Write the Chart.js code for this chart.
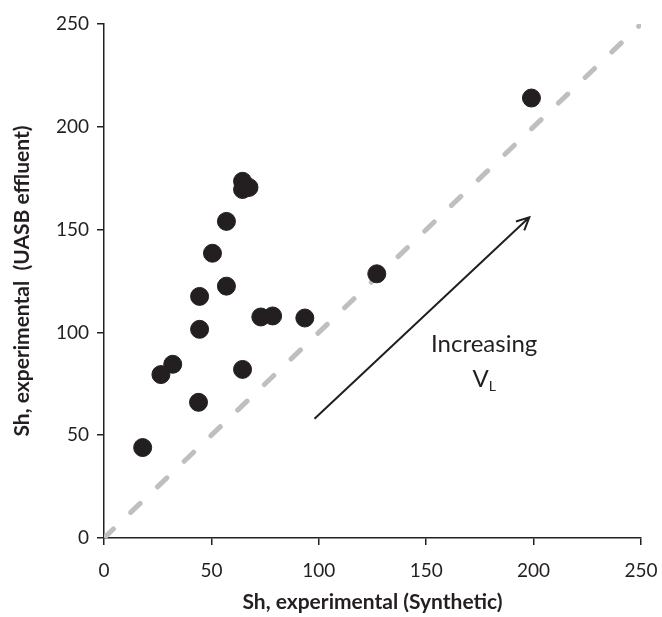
<!DOCTYPE html>
<html>
<head>
<meta charset="utf-8">
<script src="https://cdn.jsdelivr.net/npm/chart.js@4/dist/chart.umd.min.js"></script>
<style>
  html, body { margin: 0; padding: 0; background: #fff; }
  #wrap { width: 662px; height: 617px; position: relative; }
</style>
</head>
<body>
<div id="wrap"><canvas id="shChart"></canvas></div>
<script>
// Sh values
const shSynthetic = [18, 26.5, 32, 44, 44.5, 44.5, 50.5, 57, 57, 64.5, 64.5, 67.5, 64.5, 73, 78.5, 93.5, 127, 199];
const shUasb      = [44, 79.5, 84.5, 66, 101.5, 117.5, 138.5, 154, 122.5, 173.5, 169.5, 170.5, 82, 107.5, 108, 107, 128.5, 214];

// 1:1 line
const diagX = [0, 250];
const diagY = [0, 250];

// axis ticks
const tickValues = [0, 50, 100, 150, 200, 250];

// arrow + label (data units)
const arrowFrom = [98, 58];
const arrowTo = [198, 156];
const labelAt = [177, 94];

const INK = "#231f20";
const FONT = "Lato, 'Open Sans', sans-serif";

const points = shSynthetic.map((x, i) => ({ x, y: shUasb[i] }));
const diag = diagX.map((x, i) => ({ x, y: diagY[i] }));

// draw the arrow and "Increasing V_L"
const arrowPlugin = {
  id: "arrowNote",
  afterDatasetsDraw(chart) {
    const { ctx, scales } = chart;
    const x0 = scales.x.getPixelForValue(arrowFrom[0]);
    const y0 = scales.y.getPixelForValue(arrowFrom[1]);
    const x1 = scales.x.getPixelForValue(arrowTo[0]);
    const y1 = scales.y.getPixelForValue(arrowTo[1]);
    const ang = Math.atan2(y1 - y0, x1 - x0);
    const head = 14;

    ctx.save();
    ctx.strokeStyle = INK;
    ctx.lineWidth = 2;
    ctx.beginPath();
    ctx.moveTo(x0, y0);
    ctx.lineTo(x1, y1);
    ctx.moveTo(x1 - head * Math.cos(ang - 0.45), y1 - head * Math.sin(ang - 0.45));
    ctx.lineTo(x1, y1);
    ctx.lineTo(x1 - head * Math.cos(ang + 0.45), y1 - head * Math.sin(ang + 0.45));
    ctx.stroke();

    const tx = scales.x.getPixelForValue(labelAt[0]);
    const ty = scales.y.getPixelForValue(labelAt[1]);
    ctx.fillStyle = INK;
    ctx.font = "24px " + FONT;
    ctx.textAlign = "center";
    ctx.textBaseline = "middle";
    ctx.fillText("Increasing", tx, ty);

    // V with subscript L
    const vw = ctx.measureText("V").width;
    ctx.font = "14px " + FONT;
    const lw = ctx.measureText("L").width;
    const vx = tx - (vw + lw) / 2;
    ctx.textAlign = "left";
    ctx.font = "24px " + FONT;
    ctx.fillText("V", vx, ty + 35);
    ctx.font = "14px " + FONT;
    ctx.fillText("L", vx + vw, ty + 42);
    ctx.restore();
  },
};

const axisCommon = {
  type: "linear",
  min: 0,
  max: 250,
  grid: { display: true, drawOnChartArea: false, drawTicks: true, tickLength: 7, color: INK, lineWidth: 1.5 },
  border: { display: true, color: INK, width: 1.5 },
  afterBuildTicks: (scale) => { scale.ticks = tickValues.map((v) => ({ value: v })); },
  title: { display: true, color: INK, font: { family: FONT, size: 21, weight: "bold" } },
};

new Chart(document.getElementById("shChart"), {
  type: "scatter",
  data: {
    datasets: [
      {
        label: "1:1",
        type: "line",
        data: diag,
        borderColor: "#bfbfbf",
        borderWidth: 5,
        borderDash: [13, 24],
        borderCapStyle: "round",
        pointRadius: 0,
        fill: false,
        order: 2,
      },
      {
        label: "Sh",
        data: points,
        backgroundColor: INK,
        borderColor: INK,
        pointRadius: 9,
        pointHoverRadius: 9,
        order: 1,
      },
    ],
  },
  options: {
    responsive: true,
    maintainAspectRatio: false,
    animation: false,
    layout: { padding: { top: 24, right: 21, left: 0, bottom: 0 } },
    plugins: { legend: { display: false }, tooltip: { enabled: false } },
    scales: {
      x: {
        ...axisCommon,
        ticks: { color: INK, font: { family: FONT, size: 19 }, padding: 14, maxRotation: 0 },
        title: { ...axisCommon.title, text: "Sh, experimental (Synthetic)", padding: { top: 0, bottom: 2 } },
        afterFit: (scale) => {
          scale.height = 79;
          scale.paddingLeft = 0;
          scale.paddingRight = 0;
        },
      },
      y: {
        ...axisCommon,
        ticks: { color: INK, font: { family: FONT, size: 19 }, padding: 8 },
        title: { ...axisCommon.title, text: "Sh, experimental  (UASB effluent)", padding: { top: 10, bottom: 0 } },
        afterFit: (scale) => {
          scale.width = 104;
          scale.paddingTop = 0;
          scale.paddingBottom = 0;
        },
      },
    },
  },
  plugins: [arrowPlugin],
});
</script>
</body>
</html>
